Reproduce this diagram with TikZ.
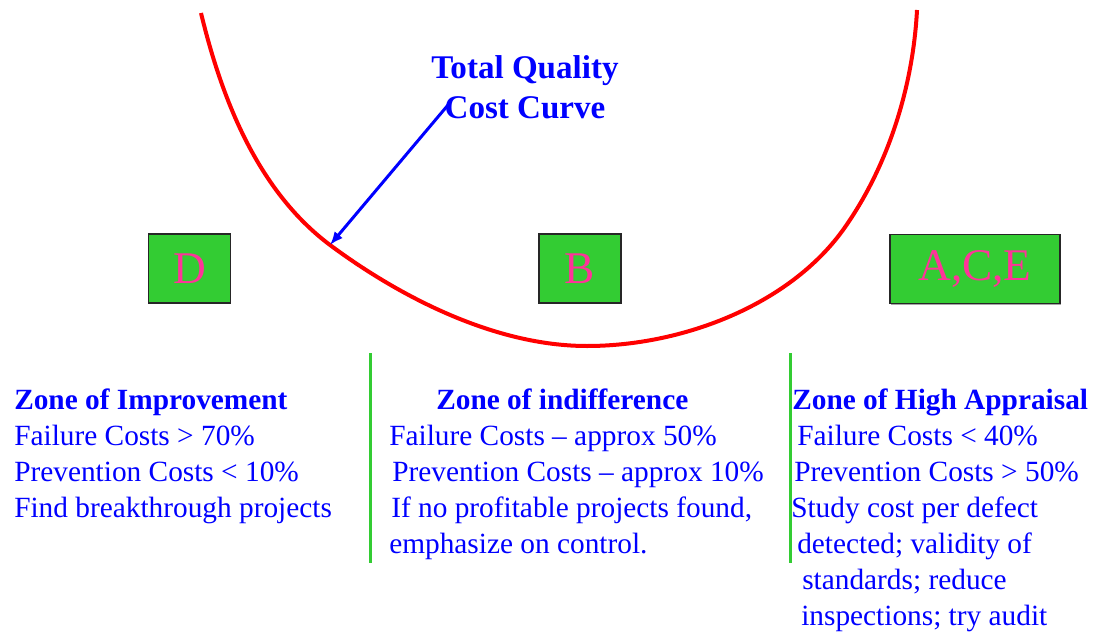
\documentclass[tikz,border=0pt]{standalone}
\usepackage{fontspec}
\setmainfont{Liberation Serif}
\usetikzlibrary{positioning, shadows, arrows.meta}
\definecolor{zonegreen}{RGB}{51,204,51}
\definecolor{letterpink}{RGB}{255,51,153}

\begin{document}
\begin{tikzpicture}[
        x=0.75pt, y=-0.75pt,
        box/.style={draw=black!85, line width=1pt, fill=zonegreen, text=letterpink, font=\fontsize{34}{40}\selectfont, minimum height=51.75pt, inner sep=0pt, drop shadow={shadow xshift=0.5pt, shadow yshift=-0.8pt, fill=gray!70, opacity=1}},
        title/.style={align=center, text=blue, font=\fontsize{24.8}{30}\selectfont\bfseries, inner sep=0pt, anchor=north},
        head/.style={text=blue, font=\fontsize{22}{27}\selectfont\bfseries, inner sep=0pt, anchor=base west},
        body/.style={text=blue, align=left, font=\fontsize{22}{27}\selectfont, inner sep=0pt, anchor=north west},
        curve/.style={red, line width=3pt},
        link/.style={-{Latex[length=10pt, width=8pt]}, blue, line width=2.25pt},
        divider/.style={zonegreen, line width=2.25pt}
    ]

    \useasboundingbox (0,0) rectangle (1098,631);

    % Total quality cost curve
    \draw[curve] (201,13) .. controls (222,100) and (258,191) .. (330,245)
        .. controls (400,297) and (495,346) .. (587,346)
        .. controls (681,346) and (788,306) .. (843,230)
        .. controls (888,167) and (913,87) .. (917,10);

    % Label and pointer
    \node[title] (title) at (525,55) {Total Quality\\Cost Curve};
    \coordinate (tail) at (448,105);
    \coordinate (tip) at (330,245);
    \draw[link] (tail) -- (tip);

    % Projects
    \node[box, minimum width=61.5pt] (boxD) at (189.5,268.5) {D};
    \node[box, minimum width=61.5pt] (boxB) at (580,268.5) {B};
    \node[box, minimum width=127.5pt] (boxACE) at (975,269) {A,C,E};

    % Zone dividers
    \coordinate (div1top) at (370,353);
    \coordinate (div1bot) at (370,563);
    \coordinate (div2top) at (790,353);
    \coordinate (div2bot) at (790,563);
    \draw[divider] (div1top) -- (div1bot);
    \draw[divider] (div2top) -- (div2bot);

    % Zone of improvement
    \node[head] (head1) at (14,409) {Zone of Improvement};
    \node[body] (body1) at (14,425) {Failure Costs > 70\%\\Prevention Costs < 10\%\\Find breakthrough projects};

    % Zone of indifference
    \node[head] (head2) at (436,409) {Zone of indifference};
    \node[body] (body2) at (389,425) {Failure Costs – approx 50\%\\\hspace*{2.25pt}Prevention Costs – approx 10\%\\\hspace*{1.5pt}If no profitable projects found,\\emphasize on control.};

    % Zone of high appraisal
    \node[head] (head3) at (792,409) {Zone of High Appraisal};
    \node[body] (body3) at (791,425) {\hspace*{4.5pt}Failure Costs < 40\%\\\hspace*{2.25pt}Prevention Costs > 50\%\\Study cost per defect\\\hspace*{4.5pt}detected; validity of\\\hspace*{8.25pt}standards; reduce\\\hspace*{7.5pt}inspections; try audit};

\end{tikzpicture}
\end{document}
